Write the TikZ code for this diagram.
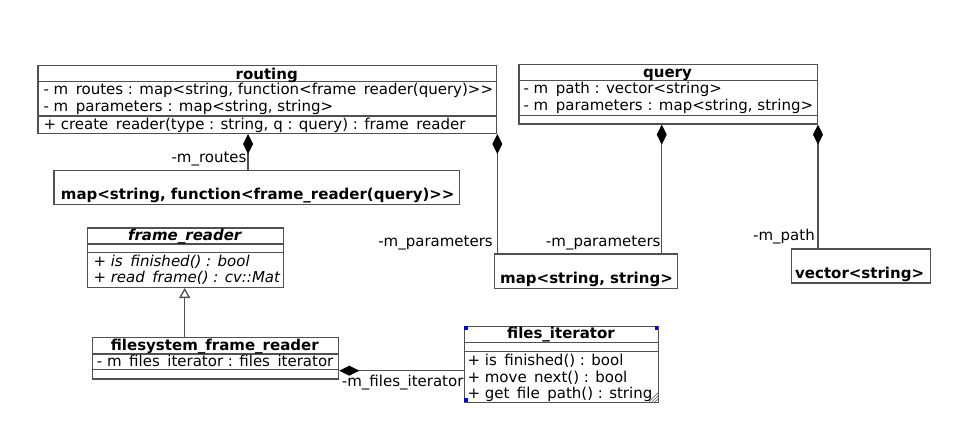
\documentclass[tikz,border=0pt]{standalone}
\usepackage{fontspec}
\setmainfont{DejaVu Sans}
\usetikzlibrary{arrows.meta}
\definecolor{linegray}{HTML}{505050}
\definecolor{handleblue}{HTML}{0000E0}
\newcommand{\fs}{\fontsize{15}{17}\selectfont}
\newcommand{\gap}{\hspace*{0.5em}}
\begin{document}
\begin{tikzpicture}[x=1pt,y=-1pt,
  cls/.style={draw=linegray, line width=1.3pt, inner sep=0pt, anchor=north west, fill=white},
  sepline/.style={draw=linegray, line width=1.3pt},
  txt/.style={inner sep=0pt, anchor=base west, font=\fs},
  itxt/.style={inner sep=0pt, anchor=base west, font=\fs\itshape},
  ttl/.style={inner sep=0pt, anchor=base, font=\fs\bfseries},
  lbl/.style={inner sep=0pt, font=\fs},
  comp/.style={draw=linegray, line width=1.3pt, {Diamond[length=20pt,width=10pt,color=black]}-},
  inher/.style={draw=linegray, line width=1.3pt, {Triangle[open,length=10pt,width=11pt,fill=white]}-},
  handle/.style={fill=handleblue, draw=none}]
\useasboundingbox (0,0) rectangle (958,439);

% ---------- routing ----------
\node[cls, minimum width=458.7pt, minimum height=67.7pt] (routing) at (37.3,65) {};
\draw[sepline] (37.3,81.7) -- (496,81.7);
\draw[sepline] (37.3,116) -- (496,116);
\node[ttl] (routingT) at (266.7,79) {routing};
\node[txt] (routingA1) at (43.3,94.3) {- m\gap routes : map<string, function<frame\gap reader(query)>{}>};
\node[txt] (routingA2) at (43.3,111) {- m\gap parameters : map<string, string>};
\node[txt] (routingM1) at (43.3,129) {+ create\gap reader(type : string, q : query) : frame\gap reader};

% ---------- query ----------
\node[cls, minimum width=298.4pt, minimum height=59.3pt] (query) at (518.3,64) {};
\draw[sepline] (518.3,80.7) -- (816.7,80.7);
\draw[sepline] (518.3,115.7) -- (816.7,115.7);
\node[ttl] (queryT) at (667.5,77.7) {query};
\node[txt] (queryA1) at (523.3,93.3) {- m\gap path : vector<string>};
\node[txt] (queryA2) at (523.3,110) {- m\gap parameters : map<string, string>};

% ---------- map<string, function<...>> ----------
\node[cls, minimum width=405.7pt, minimum height=34pt] (mapfn) at (53.3,170) {};
\node[txt, font=\fs\bfseries] (mapfnT) at (60.7,199.5) {map<string, function<frame\_reader(query)>{}>};

% ---------- map<string, string> ----------
\node[cls, minimum width=182.7pt, minimum height=34.4pt] (mapss) at (494,253.3) {};
\node[txt, font=\fs\bfseries] (mapssT) at (500,283.3) {map<string, string>};

% ---------- vector<string> ----------
\node[cls, minimum width=139.3pt, minimum height=34pt] (vec) at (790.7,248.3) {};
\node[txt, font=\fs\bfseries] (vecT) at (795,278.3) {vector<string>};

% ---------- frame_reader ----------
\node[cls, minimum width=196pt, minimum height=59.4pt] (frame) at (86.7,227.3) {};
\draw[sepline] (86.7,244) -- (282.7,244);
\draw[sepline] (86.7,252.7) -- (282.7,252.7);
\node[ttl, font=\fs\bfseries\itshape] (frameT) at (184.7,240.7) {frame\_reader};
\node[itxt] (frameM1) at (93.3,266) {+ is\gap finished() : bool};
\node[itxt] (frameM2) at (93.3,282.7) {+ read\gap frame() : cv::Mat};

% ---------- filesystem_frame_reader ----------
\node[cls, minimum width=246.3pt, minimum height=41.6pt] (fsreader) at (91.7,336.7) {};
\draw[sepline] (91.7,354) -- (338,354);
\draw[sepline] (91.7,369.3) -- (338,369.3);
\node[ttl] (fsreaderT) at (214.8,350.7) {filesystem\_frame\_reader};
\node[txt] (fsreaderA1) at (96.7,366.7) {- m\gap files\gap iterator : files\gap iterator};

% ---------- files_iterator ----------
\node[cls, minimum width=194pt, minimum height=75.7pt] (files) at (464,326) {};
\draw[sepline] (464,342.7) -- (658,342.7);
\draw[sepline] (464,351.7) -- (658,351.7);
\node[ttl] (filesT) at (561,338.3) {files\_iterator};
\node[txt] (filesM1) at (467.3,365) {+ is\gap finished() : bool};
\node[txt] (filesM2) at (467.3,382.3) {+ move\gap next() : bool};
\node[txt] (filesM3) at (467.3,398.3) {+ get\gap file\gap path() : string};
% selection handles and resize grip
\fill[handle] (464,326) rectangle ++(3.5,3.5);
\fill[handle] (658,326) rectangle ++(-3.5,3.5);
\fill[handle] (464,401.7) rectangle ++(3.5,-3.5);
\foreach \d in {3,6,9}
  \draw[linegray, line width=0.6pt] (658-\d,401.7) -- (658,401.7-\d);

% ---------- connectors ----------
\draw[comp] (248,0 |- routing.south) -- (248,0 |- mapfn.north);
\node[lbl, anchor=base east] (lblroutes) at (246.7,162) {-m\_routes};

\draw[comp] (routing.south east) -- (routing.south east |- mapss.north);
\node[lbl, anchor=base east] (lblparam1) at (493,246.7) {-m\_parameters};

\draw[comp] (661.7,0 |- query.south) -- (661.7,0 |- mapss.north);
\node[lbl, anchor=base east] (lblparam2) at (660.7,246.7) {-m\_parameters};

\draw[comp] (query.south east) -- (query.south east |- vec.north);
\node[lbl, anchor=base east] (lblpath) at (815,240.7) {-m\_path};

\draw[inher] (184.7,0 |- frame.south) -- (184.7,0 |- fsreader.north);

\draw[comp] (fsreader.east |- 0,370.7) -- (files.west |- 0,370.7);
\node[lbl, anchor=base west] (lblfiles) at (341.7,386) {-m\_files\_iterator};
\end{tikzpicture}
\end{document}
